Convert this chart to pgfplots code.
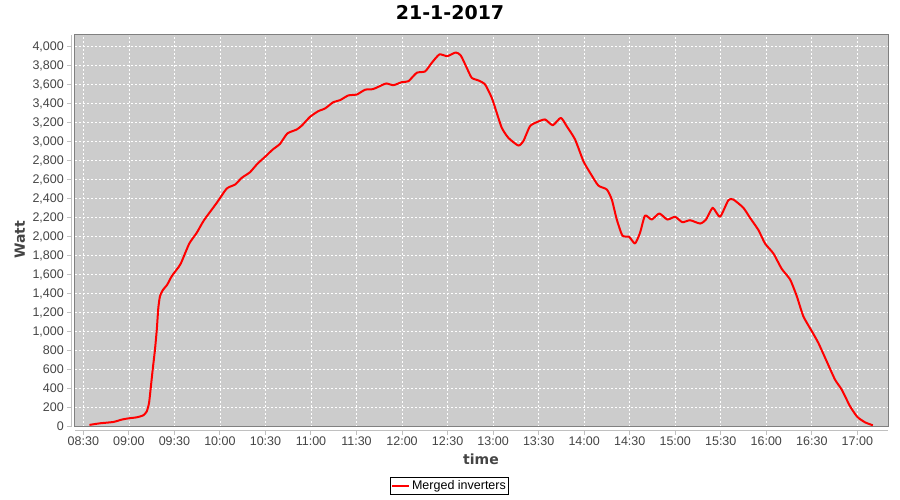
\documentclass[border=0pt]{standalone}
\usepackage{fontspec}
\setmainfont{Liberation Sans}
\newfontfamily\titlefont{DejaVu Sans}
\usepackage{pgfplots}
\pgfplotsset{compat=1.18}
\definecolor{plotbg}{RGB}{204,204,204}
\definecolor{ticktext}{RGB}{68,68,68}
\definecolor{bordergray}{RGB}{128,128,128}
\definecolor{axisgray}{RGB}{192,192,192}

% minutes after midnight, Watt
\pgfplotstableread{
m w
514.0 15
521.0 32
529.8 46
535.3 71
539.7 84
545.2 95
549.5 116
551.8 158
553.3 247
554.4 405
555.7 598
557.2 809
558.4 1020
559.4 1248
560.5 1371
562.3 1434
565.3 1494
568.2 1581
571.5 1652
574.2 1715
579.8 1926
584.7 2039
589.5 2172
597.9 2355
604.5 2506
610.0 2548
614.4 2619
619.8 2678
624.7 2767
629.7 2840
634.8 2917
639.6 2977
644.4 3086
650.6 3128
654.0 3170
659.4 3262
664.8 3321
669.3 3350
674.7 3416
679.1 3437
684.6 3487
690.2 3497
695.6 3547
700.7 3553
704.4 3578
709.5 3613
714.3 3595
719.8 3627
724.2 3637
729.7 3726
735.2 3740
739.6 3831
744.6 3919
749.8 3901
755.4 3940
758.7 3908
762.6 3779
765.9 3673
770.3 3645
774.7 3603
779.1 3462
782.4 3304
785.7 3146
790.0 3041
796.6 2959
799.9 3005
804.3 3163
808.8 3205
814.2 3234
819.3 3173
824.6 3251
828.5 3163
834.0 3023
839.5 2794
843.9 2672
849.3 2538
854.9 2496
858.2 2390
861.5 2179
865.2 2010
869.6 1997
873.5 1927
876.8 2039
880.1 2221
884.5 2179
889.5 2243
894.8 2179
899.9 2208
904.7 2151
909.8 2172
916.4 2137
920.3 2179
924.7 2303
929.5 2208
935.0 2383
938.3 2390
944.9 2303
949.3 2197
954.8 2069
959.2 1926
964.7 1821
970.2 1659
975.7 1547
980.1 1371
984.4 1160
990.0 1002
994.3 879
999.8 685
1005.3 492
1009.7 387
1015.2 211
1020.0 99
1025.1 42
1030.2 11
}\merged

\begin{document}
\begin{tikzpicture}[x=1pt,y=1pt]
\path[use as bounding box] (-75,-73) rectangle (825,427);
\begin{axis}[
  at={(0,0)}, anchor=south west,
  scale only axis, width=813pt, height=392pt,
  xmin=504.5, xmax=1040.2, ymin=-7, ymax=4124,
  axis background/.style={fill=plotbg},
  axis line style={bordergray, line width=1pt},
  tick pos=left, tick align=outside,
  major tick length=4pt,
  tick style={axisgray, line width=1pt},
  every x tick/.append style={yshift=-4pt},
  every y tick/.append style={xshift=-4pt},
  xtick={510,540,...,1020},
  xticklabels={08:30,09:00,09:30,10:00,10:30,11:00,11:30,12:00,12:30,13:00,13:30,14:00,14:30,15:00,15:30,16:00,16:30,17:00},
  ytick={0,200,...,4000},
  /pgf/number format/assume math mode=true,
  /pgf/number format/1000 sep={,},
  ticklabel style={font=\fontsize{12.5}{14}\selectfont, text=ticktext, inner sep=0pt},
  xticklabel shift=5.5pt,
  yticklabel shift=7pt,
  grid=major,
  major grid style={white, line width=0.7pt, dash pattern=on 2pt off 2pt},
  xlabel={time},
  ylabel={Watt},
  every axis x label/.style={at={(axis description cs:0.4994,-0.0816)}, anchor=center,
    font=\titlefont\bfseries\fontsize{14}{16}\selectfont, text=ticktext},
  every axis y label/.style={at={(axis description cs:-0.0677,0.477)}, anchor=center, rotate=90,
    font=\titlefont\bfseries\fontsize{14}{16}\selectfont, text=ticktext},
  title={21-1-2017},
  every axis title/.style={at={(axis description cs:0.4613,1.0383)}, anchor=base,
    font=\titlefont\bfseries\fontsize{19}{21}\selectfont},
  legend style={at={(axis description cs:0.4606,-0.1276)}, anchor=north,
    draw=black, line width=1pt, fill=white,
    font=\fontsize{12.5}{14}\selectfont, inner xsep=1pt, inner ysep=1pt,
    nodes={inner sep=2pt}},
  legend image code/.code={\draw[red, line width=2pt] (0pt,0pt) -- (17pt,0pt);},
]
\addplot[red, line width=2pt, line join=round, smooth, tension=0.35] table[x=m, y=w] {\merged};
\addlegendentry{Merged inverters}
\end{axis}
\draw[axisgray, line width=1pt] (-3.5,0) -- (-3.5,392);
\draw[axisgray, line width=1pt] (0,-3.5) -- (813,-3.5);
\end{tikzpicture}
\end{document}
